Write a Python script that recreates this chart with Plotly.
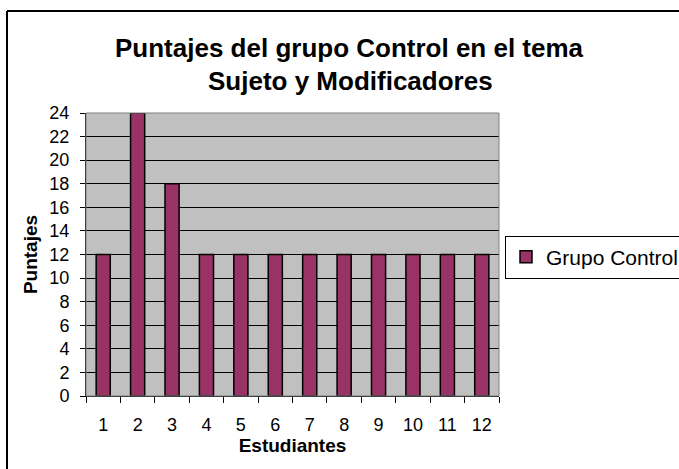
import plotly.graph_objects as go

estudiantes = ["1", "2", "3", "4", "5", "6", "7", "8", "9", "10", "11", "12"]
puntajes = [12, 24, 18, 12, 12, 12, 12, 12, 12, 12, 12, 12]
serie = "Grupo Control"
titulo1 = "Puntajes del grupo Control en el tema"
titulo2 = "Sujeto y Modificadores"
y_ticks = list(range(0, 25, 2))

W, H = 679, 469
L, R, T, B = 86, 180, 113, 73
pw, ph = W - L - R, H - T - B

def px_x(x):
    return (x - L) / pw

def px_y(y):
    return (H - B - y) / ph

x_num = [int(e) for e in estudiantes]

fig = go.Figure()
fig.add_trace(go.Bar(
    x=x_num, y=puntajes, name=serie,
    marker=dict(color="#993366", line=dict(color="black", width=1.5)),
    showlegend=True,
))

font = "Arial, Liberation Sans, sans-serif"
fig.update_layout(
    width=W, height=H,
    margin=dict(l=L, r=R, t=T, b=B, pad=0, autoexpand=False),
    paper_bgcolor="white", plot_bgcolor="#C0C0C0",
    font=dict(family=font, size=18, color="black"),
    bargap=0.59,
    showlegend=True,
    legend=dict(
        x=px_x(505), y=px_y(257), xanchor="left", yanchor="middle",
        bgcolor="white", bordercolor="black", borderwidth=1,
        font=dict(size=21, family=font),
        itemwidth=30,
    ),
    xaxis=dict(
        range=[0.5, len(estudiantes) + 0.5],
        tickmode="array", tickvals=x_num, ticktext=estudiantes,
        ticks="", showline=True, linecolor="black", linewidth=1,
        showgrid=False, zeroline=False, tickfont=dict(size=18), automargin=False,
        ticklabelstandoff=12,
        minor=dict(tick0=0.5, dtick=1, ticks="outside", ticklen=6, tickcolor="black",
                   tickwidth=1, showgrid=False),
        title=dict(text="<b>Estudiantes</b>", font=dict(size=19), standoff=1),
    ),
    yaxis=dict(
        range=[0, 24], tickvals=y_ticks, ticks="outside", ticklen=5,
        tickcolor="black", showline=True, linecolor="black", linewidth=1,
        showgrid=True, gridcolor="black", gridwidth=1, zeroline=False,
        tickfont=dict(size=18), automargin=False,
        ticklabelstandoff=7,
        title=dict(text="<b>Puntajes</b>", font=dict(size=19), standoff=6),
    ),
    annotations=[
        dict(text="<b>" + titulo1 + "</b>", x=px_x(349), y=px_y(48), xref="paper", yref="paper",
             xanchor="center", yanchor="middle", showarrow=False, font=dict(size=26, family=font)),
        dict(text="<b>" + titulo2 + "</b>", x=px_x(350), y=px_y(81), xref="paper", yref="paper",
             xanchor="center", yanchor="middle", showarrow=False, font=dict(size=26, family=font)),
    ],
    shapes=[
        dict(type="rect", xref="paper", yref="paper", x0=0, x1=1, y0=0, y1=1,
             line=dict(color="#808080", width=1), layer="above"),
        dict(type="line", xref="paper", yref="paper", x0=px_x(7), x1=px_x(690), y0=px_y(11), y1=px_y(11),
             line=dict(color="black", width=2)),
        dict(type="line", xref="paper", yref="paper", x0=px_x(7), x1=px_x(7), y0=px_y(11), y1=px_y(480),
             line=dict(color="black", width=2)),
    ],
)

fig.write_html("out.html", config={"displayModeBar": False},
               post_script="document.body.style.margin='0';")
